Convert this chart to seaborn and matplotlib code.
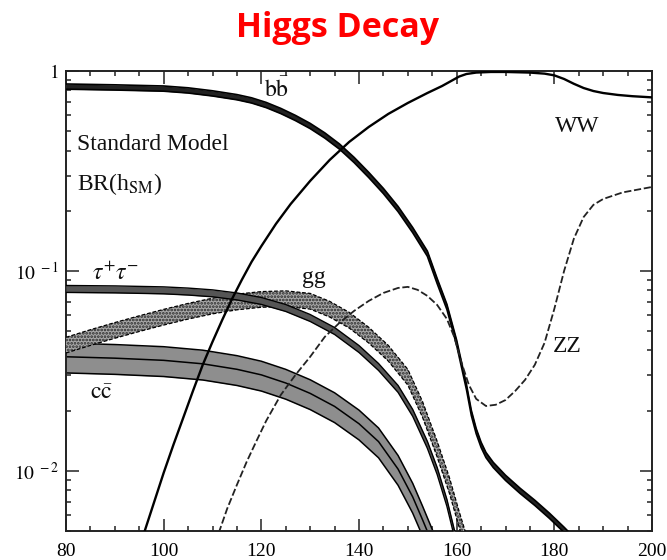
import numpy as np
import matplotlib
matplotlib.use("Agg")
import matplotlib.pyplot as plt
from matplotlib.ticker import FixedLocator, FixedFormatter, LogLocator, MultipleLocator, NullFormatter
import seaborn as sns

# Standard Model Higgs branching ratios versus Higgs mass (GeV)
bb_mass = [80, 90, 100, 105, 110, 115, 118, 121, 124, 127, 130, 133, 136, 139, 142,
           145, 148, 151, 154, 156, 158, 160, 162, 163, 164, 165, 166, 167.5, 170, 173,
           176, 179, 182, 185]
bb_br = [0.836, 0.828, 0.817, 0.800, 0.773, 0.740, 0.713, 0.676, 0.631, 0.582, 0.531,
         0.476, 0.419, 0.359, 0.302, 0.251, 0.204, 0.160, 0.122, 0.0891, 0.0661,
         0.0437, 0.0263, 0.0195, 0.0158, 0.0135, 0.0120, 0.0107, 0.00923, 0.00794,
         0.00692, 0.00596, 0.00507, 0.00427]
bb_err = 0.03

tau_mass = [80, 90, 100, 105, 110, 115, 120, 125, 130, 135, 140, 144, 148, 151, 154,
            156, 158, 159.5, 161]
tau_br = [0.0813, 0.0809, 0.0800, 0.0789, 0.0773, 0.0746, 0.0708, 0.0653, 0.0582,
          0.0501, 0.0407, 0.0331, 0.0257, 0.0195, 0.0135, 0.0100, 0.00692, 0.0049,
          0.00347]
tau_err = 0.04

gg_mass = [80, 85, 90, 95, 100, 105, 110, 115, 120, 125, 130, 134, 138, 142, 146, 150,
           153, 156, 158.5, 160.5, 162.5]
gg_br = [0.0427, 0.0466, 0.0506, 0.0547, 0.0589, 0.0631, 0.0670, 0.0702, 0.0723,
         0.0729, 0.0708, 0.0646, 0.0569, 0.0479, 0.0389, 0.0295, 0.0204, 0.0129,
         0.00851, 0.00575, 0.00398]
gg_err = 0.09

cc_mass = [80, 90, 100, 108, 115, 120, 125, 130, 135, 140, 144, 148, 151, 153, 156, 158]
cc_br = [0.0372, 0.0366, 0.0357, 0.0343, 0.0322, 0.0302, 0.0275, 0.0244, 0.0210,
         0.0172, 0.0140, 0.0102, 0.0074, 0.0057, 0.0038, 0.0028]
cc_err = 0.17

ww_mass = [94, 96, 98, 100, 102, 104, 106, 108, 110, 112, 114, 116, 118, 120, 123, 126,
           130, 134, 138, 142, 146, 150, 154, 157, 159, 160.5, 162, 164, 167, 170, 175,
           178, 180, 182, 184, 186, 188, 190, 193, 196, 200]
ww_br = [0.00347, 0.0049, 0.00692, 0.00977, 0.0135, 0.0184, 0.0251, 0.0339, 0.0442,
         0.0569, 0.0724, 0.0902, 0.111, 0.133, 0.172, 0.216, 0.282, 0.359, 0.442,
         0.525, 0.610, 0.692, 0.776, 0.841, 0.895, 0.938, 0.966, 0.982, 0.989, 0.989,
         0.982, 0.970, 0.951, 0.912, 0.863, 0.822, 0.794, 0.776, 0.759, 0.748, 0.738]

zz_mass = [109, 111, 113, 115, 117, 119, 121, 124, 127, 130, 133, 136, 139, 142, 145,
           148, 150, 152, 154, 156, 158, 159.5, 161, 162.5, 164, 166, 168, 170, 172,
           174, 176, 178, 180, 182, 184, 186, 188, 190, 194, 200]
zz_br = [0.00339, 0.00468, 0.00646, 0.00851, 0.0111, 0.0141, 0.0178, 0.0240, 0.0302,
         0.0372, 0.0468, 0.0550, 0.0631, 0.0708, 0.0776, 0.0822, 0.0832, 0.0804,
         0.0750, 0.0676, 0.0575, 0.0468, 0.0347, 0.0269, 0.0229, 0.0211, 0.0214,
         0.0226, 0.0251, 0.0285, 0.0339, 0.0437, 0.0646, 0.100, 0.145, 0.186, 0.214,
         0.229, 0.247, 0.263]

x_ticks = [80, 100, 120, 140, 160, 180, 200]
y_ticks = [0.01, 0.1, 1]
y_tick_labels = [r"$10^{\ -2}$", r"$10^{\ -1}$", r"$1\quad$"]

sns.set_style("ticks")
plt.rcParams["font.family"] = ["Liberation Serif", "DejaVu Serif"]
plt.rcParams["mathtext.fontset"] = "stix"
plt.rcParams["hatch.linewidth"] = 1.3

fig = plt.figure(figsize=(6.67, 5.6), dpi=100, facecolor="white")
ax = fig.add_axes([66 / 667, 1 - 531 / 560, 586 / 667, 460 / 560])
ax.set_facecolor("white")


def line(m, y, **kw):
    sns.lineplot(x=np.asarray(m, float), y=np.asarray(y, float), ax=ax,
                 estimator=None, sort=False, legend=False, **kw)


def band(m, br, err, face, edge_ls="-", edge_lw=1.0, hatch=None, center=False, z=2):
    m = np.asarray(m, float)
    br = np.asarray(br, float)
    lo, hi = br * (1 - err), br * (1 + err)
    ax.fill_between(m, lo, hi, facecolor=face, edgecolor="#2a2a2a", hatch=hatch,
                    linewidth=0, zorder=z)
    line(m, lo, color="black", lw=edge_lw, linestyle=edge_ls, zorder=z + 0.1)
    line(m, hi, color="black", lw=edge_lw, linestyle=edge_ls, zorder=z + 0.1)
    if center:
        line(m, br, color="black", lw=edge_lw, zorder=z + 0.2)


# c cbar: grey band with central value
band(cc_mass, cc_br, cc_err, "#8e8e8e", edge_lw=1.1, center=True, z=2)
# gluon-gluon: dotted band
band(gg_mass, gg_br, gg_err, "#a8a8a8", edge_ls=(0, (3, 1.5)), edge_lw=0.9,
     hatch=".....", z=3)
# tau tau: narrow band
band(tau_mass, tau_br, tau_err, "#555555", edge_lw=1.0, z=4)
# b bbar: narrow dark band
band(bb_mass, bb_br, bb_err, "#222222", edge_lw=1.2, z=5)
# WW and ZZ
line(ww_mass, ww_br, color="black", lw=1.7, zorder=6)
line(zz_mass, zz_br, color="#222222", lw=1.3, linestyle=(0, (4, 1.5)), zorder=6)

ax.set_yscale("log")
ax.set_xlim(80, 200)
ax.set_ylim(0.005, 1)

ax.xaxis.set_major_locator(FixedLocator(x_ticks))
ax.xaxis.set_minor_locator(MultipleLocator(5))
ax.yaxis.set_major_locator(FixedLocator(y_ticks))
ax.yaxis.set_major_formatter(FixedFormatter(y_tick_labels))
ax.yaxis.set_minor_locator(LogLocator(base=10, subs=np.arange(2, 10)))
ax.yaxis.set_minor_formatter(NullFormatter())
ax.set_xticklabels([str(t) for t in x_ticks])

ax.tick_params(which="both", direction="in", top=True, right=True, colors="#222222",
               labelcolor="black", width=1.1, labelsize=14)
ax.tick_params(which="major", length=9)
ax.tick_params(which="minor", length=3.5)
ax.tick_params(axis="x", which="major", pad=9)
ax.tick_params(axis="y", which="major", pad=5)
for s in ax.spines.values():
    s.set_visible(True)
    s.set_color("#222222")
    s.set_linewidth(1.4)
ax.set_xlabel("")
ax.set_ylabel("")

# channel labels
lab = dict(fontsize=17, color="#111111", ha="left", va="baseline", zorder=10)
ax.text(82.2, 0.403, "Standard Model", **lab)
ax.text(82.2, 0.254, r"BR(h$_{\mathrm{SM}}$)", **lab)
ax.text(120.5, 0.74, r"$\mathrm{b\bar{b}}$", **lab)
ax.text(85.3, 0.090, r"$\tau^{+}\tau^{-}$", **lab)
ax.text(128.3, 0.087, "gg", **lab)
ax.text(84.9, 0.0229, r"$\mathrm{c\bar{c}}$", **lab)
ax.text(180.1, 0.495, "WW", **lab)
ax.text(179.7, 0.0394, "ZZ", **lab)

fig.text(338 / 667, 1 - 37 / 560, "Higgs Decay", color="#ff0000", fontsize=24.5,
         fontweight="bold", family=["Open Sans", "DejaVu Sans"], ha="center",
         va="baseline")

fig.savefig("out.png", dpi=100, facecolor="white")
